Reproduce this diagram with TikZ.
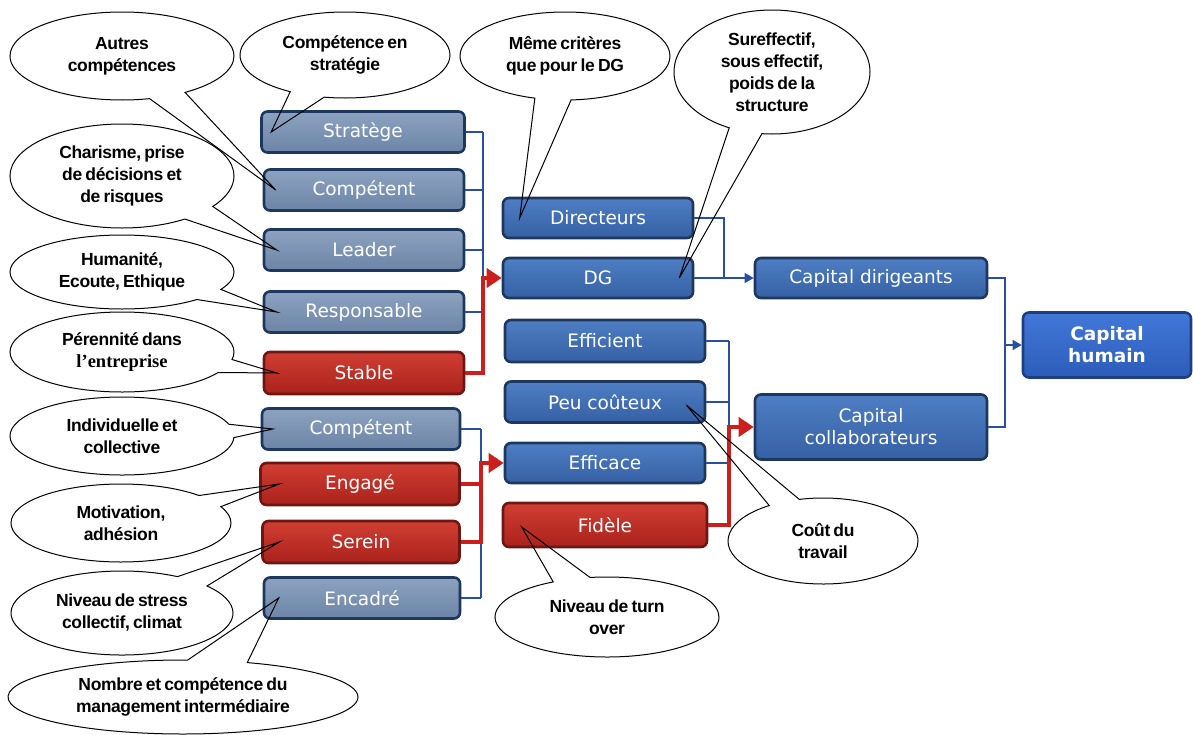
\documentclass[tikz,border=0pt]{standalone}
\usepackage{fontspec}
\setmainfont{DejaVu Sans}
\newfontfamily\bubblefont{Liberation Sans}[LetterSpace=-2.0,WordSpace=0.7]
\newfontfamily\bubbleserif{Liberation Serif}
\usetikzlibrary{shapes.callouts,arrows.meta}

\definecolor{navyedge}{RGB}{30,55,95}
\definecolor{greytop}{RGB}{140,162,192}
\definecolor{greybot}{RGB}{108,132,166}
\definecolor{bluetop}{RGB}{78,126,196}
\definecolor{bluebot}{RGB}{54,96,164}
\definecolor{redtop}{RGB}{208,62,50}
\definecolor{redbot}{RGB}{170,34,28}
\definecolor{rededge}{RGB}{110,22,18}
\definecolor{humtop}{RGB}{66,120,216}
\definecolor{humbot}{RGB}{44,92,186}
\definecolor{humedge}{RGB}{30,62,130}
\definecolor{linkblue}{RGB}{40,80,160}
\definecolor{linkred}{RGB}{205,30,30}

\begin{document}
\begin{tikzpicture}[
  x=1pt, y=-1pt,
  every node/.style={font=\fontsize{18.5}{22}\selectfont},
  basebox/.style={rectangle, rounded corners=6pt, line width=2.6pt, draw=navyedge, text=white, align=center, inner sep=0pt},
  greybox/.style={basebox, top color=greytop, bottom color=greybot, minimum width=200pt, minimum height=41pt},
  redbox/.style={basebox, draw=rededge, top color=redtop, bottom color=redbot, minimum width=200pt, minimum height=42pt},
  bluebox/.style={basebox, top color=bluetop, bottom color=bluebot, minimum height=41pt},
  bubble/.style={ellipse callout, draw=black, line width=1pt, inner sep=0pt, align=center, callout pointer arc=20,
    font=\bubblefont\bfseries\fontsize{17.5}{22}\selectfont},
  bluelink/.style={linkblue, line width=1.3pt},
  redlink/.style={linkred, line width=4.8pt},
  bluetip/.style={-{Triangle[length=9pt,width=10pt]}},
  redtip/.style={-{Triangle[length=15pt,width=19pt]}}
]
\useasboundingbox (0,0) rectangle (1193,734);

% Leaders
\node[greybox, minimum width=203pt] (strat) at (363,132) {Stratège};
\node[greybox] (compA) at (364,190) {Compétent};
\node[greybox] (leader) at (364,250) {Leader};
\node[greybox] (resp) at (364,312) {Responsable};
\node[redbox] (stable) at (364,373) {Stable};

% Staff
\node[greybox, minimum width=198pt] (compB) at (361,429) {Compétent};
\node[redbox, minimum width=199pt] (engage) at (360,484) {Engagé};
\node[redbox, minimum width=197pt] (serein) at (361,542) {Serein};
\node[greybox, minimum width=196pt] (encadre) at (362,598) {Encadré};

% Middle column
\node[bluebox, minimum width=190pt, minimum height=40pt] (dir) at (598,218) {Directeurs};
\node[bluebox, minimum width=190pt, minimum height=40pt] (dg) at (598,278) {DG};
\node[bluebox, minimum width=200pt, minimum height=42pt] (effic) at (605,341) {Efficient};
\node[bluebox, minimum width=200pt] (peu) at (605,402) {Peu coûteux};
\node[bluebox, minimum width=200pt, minimum height=40pt] (efficace) at (605,463) {Efficace};
\node[redbox, minimum width=204pt, minimum height=44pt] (fidele) at (605,525) {Fidèle};

% Capitals
\node[bluebox, minimum width=232pt, minimum height=40pt] (capdir) at (871,278) {Capital dirigeants};
\node[bluebox, minimum width=232pt, minimum height=65pt] (capcol) at (871,427) {Capital\\collaborateurs};
\node[basebox, draw=humedge, top color=humtop, bottom color=humbot, minimum width=168pt, minimum height=65pt,
  font=\bfseries\fontsize{18.5}{22}\selectfont] (caphum) at (1107,345) {Capital\\humain};

% Buses
\coordinate (busA) at (483,0);
\coordinate (busB) at (481,0);
\coordinate (busC) at (724,0);
\coordinate (busD) at (729,0);
\coordinate (busE) at (1005,0);

% Leaders -> DG
\foreach \n in {strat,compA,leader,resp}
  \draw[bluelink] (\n.east) -- (\n.east -| busA);
\draw[bluelink] (strat.east -| busA) -- (resp.east -| busA);
\draw[redlink, redtip] (stable.east) -- (stable.east -| busA) |- (dg.west);

% Staff -> Efficace
\foreach \n in {compB,encadre}
  \draw[bluelink] (\n.east) -- (\n.east -| busB);
\draw[bluelink] (compB.east -| busB) -- (encadre.east -| busB);
\draw[redlink] (engage.east) -- (engage.east -| busB);
\draw[redlink, redtip] (serein.east) -- (serein.east -| busB) |- (efficace.west);

% Directeurs, DG -> Capital dirigeants
\draw[bluelink] (dir.east) -- (dir.east -| busC) -- (dg.east -| busC);
\draw[bluelink, bluetip] (dg.east) -- (capdir.west);

% Efficient, Peu coûteux, Efficace, Fidèle -> Capital collaborateurs
\foreach \n in {effic,peu,efficace}
  \draw[bluelink] (\n.east) -- (\n.east -| busD);
\draw[bluelink] (effic.east -| busD) -- (efficace.east -| busD);
\draw[redlink, redtip] (fidele.east) -- (fidele.east -| busD) |- (capcol.west);

% -> Capital humain
\draw[bluelink] (capdir.east) -- (capdir.east -| busE) -- (capcol.east -| busE) -- (capcol.east);
\draw[bluelink, bluetip] (caphum.west -| busE) -- (caphum.west);

% Bubbles
\node[bubble, minimum width=224pt, minimum height=88pt, callout absolute pointer={([xshift=13pt]compA.west)}] (bAutres) at (122,56) {Autres\\compétences};
\node[bubble, minimum width=210pt, minimum height=86pt, callout absolute pointer={([xshift=11pt]strat.west)}] (bStrat) at (345,55) {Compétence en\\stratégie};
\node[bubble, minimum width=224pt, minimum height=104pt, callout absolute pointer={([xshift=14pt]leader.west)}] (bChar) at (122,176) {Charisme, prise\\de décisions et\\de risques};
\node[bubble, minimum width=224pt, minimum height=74pt, callout absolute pointer={([xshift=14pt]resp.west)}] (bHuman) at (122,272) {Humanité,\\Ecoute, Ethique};
\node[bubble, minimum width=224pt, minimum height=80pt, callout absolute pointer={([xshift=14pt]stable.west)}] (bPeren) at (122,352) {Pérennité dans\\{\bubbleserif\fontsize{18.5}{22}\selectfont l’entreprise}};
\node[bubble, minimum width=224pt, minimum height=78pt, callout absolute pointer={([xshift=12pt]compB.west)}] (bIndiv) at (122,436) {Individuelle et\\collective};
\node[bubble, minimum width=220pt, minimum height=78pt, callout absolute pointer={([xshift=20pt]engage.west)}] (bMotiv) at (121,523) {Motivation,\\adhésion};
\node[bubble, minimum width=222pt, minimum height=84pt, callout absolute pointer={([xshift=18pt]serein.west)}] (bStress) at (122,613) {Niveau de stress\\collectif, climat};
\node[bubble, minimum width=350pt, minimum height=74pt, callout absolute pointer={([xshift=16pt]encadre.west)}] (bNombre) at (183,697) {Nombre et compétence du\\management intermédiaire};
\node[bubble, minimum width=210pt, minimum height=88pt, callout absolute pointer={([xshift=18pt]dir.west)}] (bMeme) at (565,56) {Même critères\\que pour le DG};
\node[bubble, minimum width=196pt, minimum height=124pt, callout absolute pointer={([xshift=-15pt]dg.east)}] (bSur) at (772,72) {Sureffectif,\\sous effectif,\\poids de la\\structure};
\node[bubble, minimum width=190pt, minimum height=86pt, callout absolute pointer={([xshift=-20pt,yshift=-3pt]peu.east)}] (bCout) at (823,541) {Coût du\\travail};
\node[bubble, minimum width=224pt, minimum height=80pt, callout absolute pointer={([xshift=20pt,yshift=-2pt]fidele.west)}] (bTurn) at (607,617) {Niveau de turn\\over};
\end{tikzpicture}
\end{document}
